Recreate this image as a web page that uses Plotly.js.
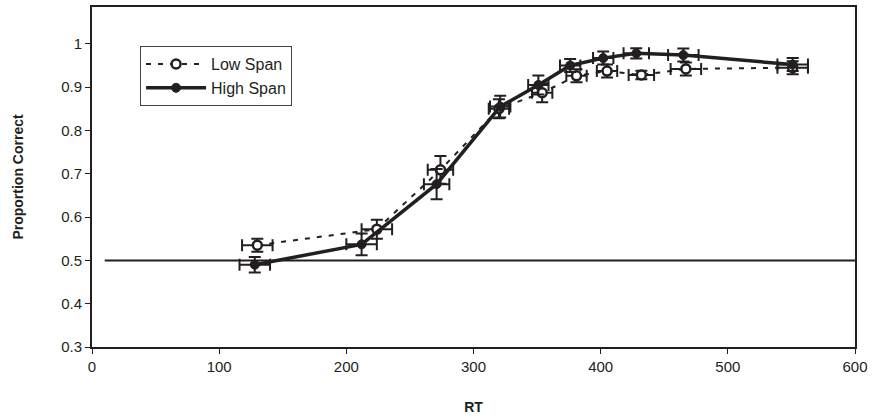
<!DOCTYPE html>
<html>
<head>
<meta charset="utf-8">
<script src="https://cdn.plot.ly/plotly-3.0.1.min.js"></script>
<style>html,body{margin:0;padding:0;background:#fff;}#chart{width:875px;height:420px;}</style>
</head>
<body>
<div id="chart"></div>
<script>
// Low Span data
var lowRT      = [130, 224, 274, 320, 354, 381, 405, 432, 467, 551];
var lowRTerr   = [12, 12, 10, 8, 8, 8, 8, 10, 12, 12];
var lowPC      = [0.535, 0.572, 0.709, 0.850, 0.887, 0.926, 0.937, 0.928, 0.942, 0.945];
var lowPCerr   = [0.015, 0.022, 0.032, 0.022, 0.022, 0.015, 0.015, 0.010, 0.015, 0.015];
// High Span data
var highRT     = [128, 212, 271, 321, 351, 376, 402, 428, 465, 551];
var highRTerr  = [12, 12, 10, 8, 8, 8, 8, 10, 12, 12];
var highPC     = [0.490, 0.537, 0.676, 0.855, 0.905, 0.950, 0.967, 0.978, 0.974, 0.952];
var highPCerr  = [0.018, 0.025, 0.035, 0.025, 0.022, 0.015, 0.015, 0.012, 0.015, 0.015];
// Chance line
var chanceRT = [10, 600];
var chancePC = [0.5, 0.5];
var seriesNames = ['Low Span', 'High Span'];
var xTicks = [0, 100, 200, 300, 400, 500, 600];
var yTicks = [0.3, 0.4, 0.5, 0.6, 0.7, 0.8, 0.9, 1];
var yTickText = ['0.3', '0.4', '0.5', '0.6', '0.7', '0.8', '0.9', '1'];

var ink = '#231f20';
var traces = [
  {
    x: chanceRT, y: chancePC, mode: 'lines', showlegend: false, hoverinfo: 'skip',
    line: {color: ink, width: 2}
  },
  {
    x: lowRT, y: lowPC, name: seriesNames[0], mode: 'lines+markers',
    line: {color: ink, width: 2, dash: '5px,7px'},
    marker: {symbol: 'circle', size: 9, color: '#ffffff', line: {color: ink, width: 2.5}},
    error_y: {type: 'data', array: lowPCerr, visible: true, color: ink, thickness: 2, width: 6},
    error_x: {type: 'data', array: lowRTerr, visible: true, color: ink, thickness: 2, width: 6}
  },
  {
    x: highRT, y: highPC, name: seriesNames[1], mode: 'lines+markers',
    line: {color: ink, width: 3.5},
    marker: {symbol: 'circle', size: 9, color: ink, line: {color: ink, width: 1}},
    error_y: {type: 'data', array: highPCerr, visible: true, color: ink, thickness: 2, width: 6},
    error_x: {type: 'data', array: highRTerr, visible: true, color: ink, thickness: 2, width: 6}
  }
];

var layout = {
  width: 875, height: 420,
  margin: {l: 92, r: 20, t: 7, b: 73},
  paper_bgcolor: '#ffffff', plot_bgcolor: '#ffffff',
  font: {family: 'Liberation Sans, Arial, sans-serif', size: 15, color: ink},
  showlegend: true,
  legend: {
    x: 0.063, y: 0.885, xanchor: 'left', yanchor: 'top',
    bordercolor: '#444', borderwidth: 1, bgcolor: '#ffffff',
    font: {size: 16, color: ink}, tracegroupgap: 6, itemwidth: 60
  },
  xaxis: {
    range: [0, 600], tickvals: xTicks, ticktext: xTicks.map(String),
    showgrid: false, zeroline: false, showline: true, linecolor: ink, linewidth: 2,
    mirror: true, ticks: 'outside', ticklen: 5, tickcolor: ink, tickwidth: 1,
    tickfont: {size: 15, color: ink},
    title: {text: '<b>RT</b>', font: {size: 14, color: ink}, standoff: 28}
  },
  yaxis: {
    range: [0.3, 1.085], tickvals: yTicks, ticktext: yTickText,
    showgrid: false, zeroline: false, showline: true, linecolor: ink, linewidth: 2,
    mirror: true, ticks: 'outside', ticklen: 5, tickcolor: ink, tickwidth: 1,
    tickfont: {size: 15, color: ink},
    title: {text: '<b>Proportion Correct</b>', font: {size: 14, color: ink}, standoff: 34}
  }
};

Plotly.newPlot('chart', traces, layout, {displayModeBar: false, staticPlot: true});
</script>
</body>
</html>
